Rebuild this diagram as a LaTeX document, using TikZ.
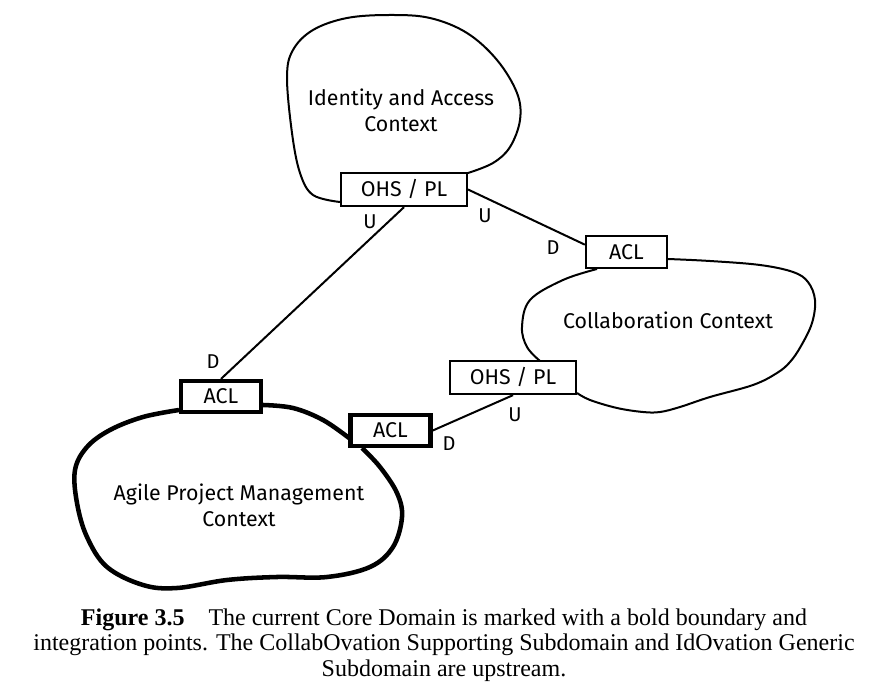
\documentclass[tikz,border=0pt]{standalone}
\usepackage{fontspec}
\setmainfont{Fira Sans}
\newfontfamily\capfont{Liberation Serif}
\usepackage{tikz}

\begin{document}
\begin{tikzpicture}[x=0.75pt,y=-0.75pt,
  ctxbox/.style={draw,line width=1.5pt,fill=white,inner sep=0pt,minimum width=94.5pt,minimum height=25pt,font=\fontsize{16}{18}\selectfont},
  aclbox/.style={ctxbox,minimum width=61pt,minimum height=24pt},
  corebox/.style={ctxbox,line width=3.4pt,minimum width=60pt,minimum height=23pt},
  lbl/.style={font=\fontsize{15}{17}\selectfont},
  ctxname/.style={align=center,font=\fontsize{16}{19.5}\selectfont}]
\useasboundingbox (0,0) rectangle (871,698);

\draw[line width=1.5pt] plot[smooth,tension=0.6] coordinates {(340,202) (313,195) (300,173) (292,133) (287,77) (293,50) (313,30) (347,18) (390,15) (430,18) (467,33) (497,60) (517,93) (520,120) (510,147) (493,163) (468,173)};
\draw[line width=1.5pt] plot[smooth,tension=0.6] coordinates {(540,361) (527,347) (522,327) (530,300) (563,280) (597,269)};
\draw[line width=1.5pt] plot[smooth,tension=0.6] coordinates {(668,259) (710,261) (760,265) (793,272) (808,282) (815,300) (812,323) (801,346) (790,362) (777,373) (753,385) (710,397) (680,407) (660,412) (643,412) (617,408) (590,400) (577,393)};
\draw[line width=3.4pt] plot[smooth,tension=0.6] coordinates {(263,405) (293,408) (323,420) (349,438)};
\draw[line width=3.4pt] plot[smooth,tension=0.6] coordinates {(179,410) (143,417) (110,430) (87,447) (75,470) (77,503) (87,537) (107,567) (143,585) (177,588) (227,580) (277,577) (327,577) (370,567) (393,547) (402,517) (397,493) (380,467) (362,448)};

\node[ctxbox] (ohsIA) at (404,189.5) {OHS / PL};
\node[aclbox] (aclCo) at (626.5,252) {ACL};
\node[ctxbox] (ohsCo) at (513,377.5) {OHS / PL};
\node[corebox] (aclIA) at (221,396.5) {ACL};
\node[corebox] (aclCoA) at (390.5,430.5) {ACL};

\draw[line width=1.5pt] (ohsIA.south) -- (aclIA.north);
\draw[line width=1.5pt] (ohsIA.east) -- (aclCo.170);
\draw[line width=1.5pt] (ohsCo.south) -- (aclCoA.east);

\node[ctxname] at (401,110) {Identity and Access\\Context};
\node[ctxname] at (668,320) {Collaboration Context};
\node[ctxname] at (239,505) {Agile Project Management\\Context};

\node[lbl] at (370,222) {U};
\node[lbl] at (485,216) {U};
\node[lbl] at (553,248) {D};
\node[lbl] at (213,362) {D};
\node[lbl] at (515,415) {U};
\node[lbl] at (449,444) {D};

\node[align=center,font=\capfont\fontsize{18}{19.2}\selectfont] at (444,645)
  {\textbf{Figure 3.5}\quad The current Core Domain is marked with a bold boundary and\\
   integration points. The CollabOvation Supporting Subdomain and IdOvation Generic\\
   Subdomain are upstream.};
\end{tikzpicture}
\end{document}
